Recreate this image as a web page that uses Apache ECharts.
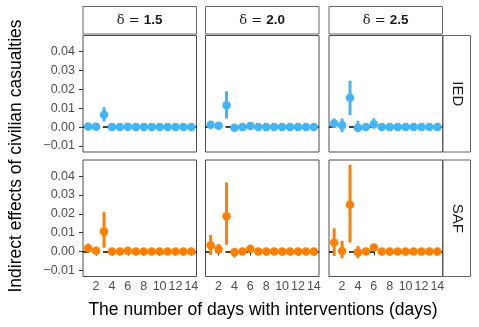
<!DOCTYPE html>
<html>
<head>
<meta charset="utf-8">
<script src="https://cdn.jsdelivr.net/npm/echarts@6/dist/echarts.min.js"></script>
<style>
  html, body { margin: 0; padding: 0; background: #fff; }
  #main { width: 479px; height: 327px; }
</style>
</head>
<body>
<div id="main"></div>
<script>
  // days 1..14
  var days = [1, 2, 3, 4, 5, 6, 7, 8, 9, 10, 11, 12, 13, 14];
  var deltas = ['1.5', '2.0', '2.5'];
  var types = ['IED', 'SAF'];
  var xTicks = [2, 4, 6, 8, 10, 12, 14];
  var yTicks = [-0.01, 0, 0.01, 0.02, 0.03, 0.04];

  // IED
  var iedEst15 = [0.0003, 0.0002, 0.0065, 0, 0.0001, 0.0002, 0, 0, 0, 0, 0, 0, 0, 0];
  var iedLo15  = [-0.0004, -0.0004, 0.003, -0.0004, -0.0003, -0.0003, -0.0003, -0.0003, -0.0003, -0.0003, -0.0003, -0.0003, -0.0003, -0.0003];
  var iedHi15  = [0.0012, 0.0009, 0.0105, 0.0004, 0.0005, 0.0007, 0.0003, 0.0003, 0.0003, 0.0003, 0.0003, 0.0003, 0.0003, 0.0003];

  var iedEst20 = [0.0012, 0.0007, 0.0115, -0.0003, 0, 0.0006, 0, 0, 0, 0, 0, 0, 0, 0];
  var iedLo20  = [0, -0.0006, 0.0045, -0.0015, -0.0004, -0.0005, -0.0003, -0.0003, -0.0003, -0.0003, -0.0003, -0.0003, -0.0003, -0.0003];
  var iedHi20  = [0.0025, 0.0019, 0.019, 0.0008, 0.0004, 0.0018, 0.0003, 0.0003, 0.0003, 0.0003, 0.0003, 0.0003, 0.0003, 0.0003];

  var iedEst25 = [0.0019, 0.001, 0.0155, -0.0004, 0, 0.0015, 0, 0, 0, 0, 0, 0, 0, 0];
  var iedLo25  = [-0.0003, -0.0027, 0.0063, -0.0027, -0.0005, -0.0007, -0.0003, -0.0003, -0.0003, -0.0003, -0.0003, -0.0003, -0.0003, -0.0003];
  var iedHi25  = [0.0045, 0.0045, 0.0245, 0.0034, 0.0005, 0.0047, 0.0003, 0.0003, 0.0003, 0.0003, 0.0003, 0.0003, 0.0003, 0.0003];

  // SAF
  var safEst15 = [0.0018, 0.0004, 0.0107, 0, 0, 0.0005, 0, 0, 0, 0, 0, 0, 0, 0];
  var safLo15  = [0.0002, -0.0003, 0.002, -0.0004, -0.0003, -0.0002, -0.0003, -0.0003, -0.0003, -0.0003, -0.0003, -0.0003, -0.0003, -0.0003];
  var safHi15  = [0.0043, 0.0012, 0.0209, 0.0004, 0.0004, 0.0012, 0.0003, 0.0003, 0.0003, 0.0003, 0.0003, 0.0003, 0.0003, 0.0003];

  var safEst20 = [0.0034, 0.0013, 0.0187, -0.0003, 0, 0.0015, 0, 0, 0, 0, 0, 0, 0, 0];
  var safLo20  = [-0.0018, -0.0012, 0.0036, -0.003, -0.0004, 0, -0.0003, -0.0003, -0.0003, -0.0003, -0.0003, -0.0003, -0.0003, -0.0003];
  var safHi20  = [0.0088, 0.004, 0.0366, 0.002, 0.0004, 0.0025, 0.0003, 0.0003, 0.0003, 0.0003, 0.0003, 0.0003, 0.0003, 0.0003];

  var safEst25 = [0.0048, 0.0003, 0.0248, -0.0003, 0, 0.0021, 0, 0, 0, 0, 0, 0, 0, 0];
  var safLo25  = [-0.0023, -0.0035, 0.0048, -0.0035, -0.0005, 0.0003, -0.0003, -0.0003, -0.0003, -0.0003, -0.0003, -0.0003, -0.0003, -0.0003];
  var safHi25  = [0.0123, 0.0057, 0.046, 0.003, 0.0005, 0.0035, 0.0003, 0.0003, 0.0003, 0.0003, 0.0003, 0.0003, 0.0003, 0.0003];

  var panelData = [
    [[iedEst15, iedLo15, iedHi15], [iedEst20, iedLo20, iedHi20], [iedEst25, iedLo25, iedHi25]],
    [[safEst15, safLo15, safHi15], [safEst20, safLo20, safHi20], [safEst25, safLo25, safHi25]]
  ];
  var colors = ['#45b4f7', '#ff8000'];

  var font = 'Liberation Sans, Arial, sans-serif';
  var colLeft = [83, 205.5, 329];
  var colW = 113.5;
  var rowTop = [35.5, 160];
  var rowH = 116.5;

  var grids = [], xAxes = [], yAxes = [], series = [], graphics = [];

  for (var r = 0; r < 2; r++) {
    for (var c = 0; c < 3; c++) {
      var k = grids.length;
      grids.push({
        left: colLeft[c], top: rowTop[r], width: colW, height: rowH,
        show: true, borderColor: '#4d4d4d', borderWidth: 1, backgroundColor: '#fff'
      });
      xAxes.push({
        gridIndex: k, type: 'value', min: 0.35, max: 14.65,
        axisLine: { show: false },
        splitLine: { show: false },
        axisTick: { show: r === 1, customValues: xTicks, length: 4, lineStyle: { color: '#333' } },
        axisLabel: { show: r === 1, customValues: xTicks, color: '#4d4d4d', fontSize: 12.5, fontFamily: font, margin: 4 }
      });
      yAxes.push({
        gridIndex: k, type: 'value', min: -0.0132, max: 0.0485,
        axisLine: { show: false },
        splitLine: { show: false },
        axisTick: { show: c === 0, customValues: yTicks, length: 4, lineStyle: { color: '#333' } },
        axisLabel: {
          show: c === 0, customValues: yTicks, color: '#4d4d4d', fontSize: 12.5, fontFamily: font, margin: 8,
          formatter: function (v) { return v.toFixed(2).replace('-', '\u2212'); }
        }
      });

      var d = panelData[r][c];
      var bars = [], pts = [];
      for (var i = 0; i < days.length; i++) {
        bars.push([days[i], d[1][i], d[2][i]]);
        pts.push([days[i], d[0][i]]);
      }
      series.push({
        type: 'custom', xAxisIndex: k, yAxisIndex: k, clip: true, z: 3,
        data: bars,
        renderItem: (function (col) {
          return function (params, api) {
            var p1 = api.coord([api.value(0), api.value(1)]);
            var p2 = api.coord([api.value(0), api.value(2)]);
            return {
              type: 'line',
              shape: { x1: p1[0], y1: p1[1], x2: p2[0], y2: p2[1] },
              style: { stroke: col, lineWidth: 3 }
            };
          };
        })(colors[r]),
        markLine: {
          silent: true, symbol: 'none', z: 2,
          label: { show: false },
          lineStyle: { color: '#000', type: [6, 4], width: 1.6 },
          data: [{ yAxis: 0 }]
        }
      });
      series.push({
        type: 'scatter', xAxisIndex: k, yAxisIndex: k, z: 4,
        symbolSize: 8.5, itemStyle: { color: colors[r], opacity: 1 },
        data: pts
      });
    }
  }

  // top strips
  for (var c2 = 0; c2 < 3; c2++) {
    graphics.push({
      type: 'rect', shape: { x: colLeft[c2], y: 6.5, width: colW, height: 27.5 },
      style: { fill: '#fff', stroke: '#666', lineWidth: 1 }
    });
    graphics.push({
      type: 'text', x: colLeft[c2] + colW / 2, y: 20.5,
      style: {
        text: '{s|\u03b4 = }{b|' + deltas[c2] + '}',
        align: 'center', verticalAlign: 'middle',
        rich: {
          s: { fontFamily: 'DejaVu Serif, serif', fontSize: 13, fill: '#1a1a1a' },
          b: { fontFamily: font, fontSize: 13.5, fontWeight: 'bold', fill: '#1a1a1a' }
        }
      }
    });
  }
  // right strips
  for (var r2 = 0; r2 < 2; r2++) {
    graphics.push({
      type: 'rect', shape: { x: 443, y: rowTop[r2], width: 27.5, height: rowH },
      style: { fill: '#fff', stroke: '#666', lineWidth: 1 }
    });
    graphics.push({
      type: 'text', x: 457, y: rowTop[r2] + rowH / 2, rotation: -Math.PI / 2,
      style: {
        text: types[r2], align: 'center', verticalAlign: 'middle',
        fontFamily: font, fontSize: 15, fill: '#1a1a1a'
      }
    });
  }
  // axis titles
  graphics.push({
    type: 'text', x: 263, y: 310,
    style: {
      text: 'The number of days with interventions (days)', align: 'center', verticalAlign: 'middle',
      fontFamily: font, fontSize: 17.5, fill: '#000'
    }
  });
  graphics.push({
    type: 'text', x: 16, y: 156, rotation: Math.PI / 2,
    style: {
      text: 'Indirect effects of civilian casualties', align: 'center', verticalAlign: 'middle',
      fontFamily: font, fontSize: 17.5, fill: '#000'
    }
  });

  var chart = echarts.init(document.getElementById('main'), null, { renderer: 'canvas' });
  chart.setOption({
    animation: false,
    grid: grids,
    xAxis: xAxes,
    yAxis: yAxes,
    series: series,
    graphic: graphics
  });
  window.addEventListener('resize', function () { chart.resize(); });
</script>
</body>
</html>
